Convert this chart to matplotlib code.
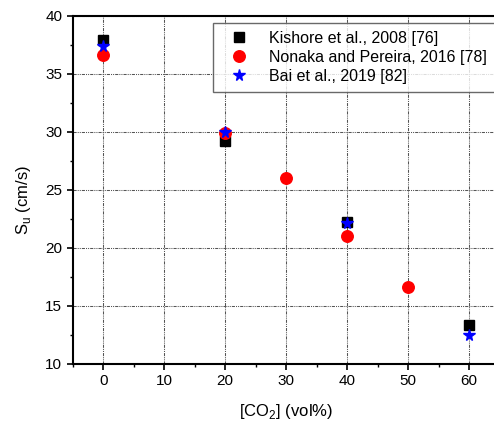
# Laminar burning velocity vs CO2 dilution, three literature data sets

import numpy as np
from matplotlib import pyplot as plt
from matplotlib.ticker import MultipleLocator

plt.rcParams['font.family'] = ['Liberation Sans', 'DejaVu Sans']
plt.rcParams['mathtext.fontset'] = 'custom'
plt.rcParams['mathtext.rm'] = 'Liberation Sans'

# Kishore et al., 2008
co2_kishore = [0, 20, 40, 60]
su_kishore = [37.9, 29.2, 22.2, 13.3]

# Nonaka and Pereira, 2016
co2_nonaka = [0, 20, 30, 40, 50]
su_nonaka = [36.6, 29.9, 26.0, 21.0, 16.6]

# Bai et al., 2019
co2_bai = [0, 20, 40, 60]
su_bai = [37.4, 30.0, 22.1, 12.5]

fig = plt.figure(figsize=(4.94, 4.23), dpi=100)
ax = fig.add_axes([72.7/494, 1-363.7/423, (499.5-72.7)/494, (363.7-15.7)/423])

ax.plot(co2_kishore, su_kishore, 's', color='black', ms=7.5, ls='none',
        label='Kishore et al., 2008 [76]', zorder=3)
ax.plot(co2_nonaka, su_nonaka, 'o', color='red', ms=8.3, ls='none',
        label='Nonaka and Pereira, 2016 [78]', zorder=4)
ax.plot(co2_bai, su_bai, '*', color='blue', ms=8.5, ls='none',
        label='Bai et al., 2019 [82]', zorder=5)

ax.set_xlim(-5, 65)
ax.set_ylim(10, 40)
ax.xaxis.set_major_locator(MultipleLocator(10))
ax.xaxis.set_minor_locator(MultipleLocator(5))
ax.yaxis.set_major_locator(MultipleLocator(5))
ax.yaxis.set_minor_locator(MultipleLocator(2.5))
ax.tick_params(which='major', direction='out', length=4, width=1.2, labelsize=11)
ax.tick_params(which='minor', direction='out', length=2.5, width=1.0)

ax.grid(True, which='major', color='#555555', lw=0.75, ls=(0, (3, 1, 1, 1, 1, 1)))
ax.set_axisbelow(True)

for side in ['left', 'bottom', 'top']:
    ax.spines[side].set_linewidth(1.5)
ax.spines['right'].set_visible(False)

ax.set_xlabel('[CO$_\\mathrm{2}$] (vol%)', fontsize=12)
ax.set_ylabel('S$_\\mathrm{u}$ (cm/s)', fontsize=12)
ax.xaxis.set_label_coords(0.5, -0.11)
ax.yaxis.set_label_coords(-0.093, 0.47)

leg = ax.legend(loc='upper left', bbox_to_anchor=(0.329, 0.98), fontsize=11.5,
                frameon=True, fancybox=False, edgecolor='#444444',
                handletextpad=0.8, borderpad=0.5, labelspacing=0.25,
                borderaxespad=0, handlelength=2.2)
leg.get_frame().set_linewidth(1.0)

fig.savefig('out.png', dpi=100)
